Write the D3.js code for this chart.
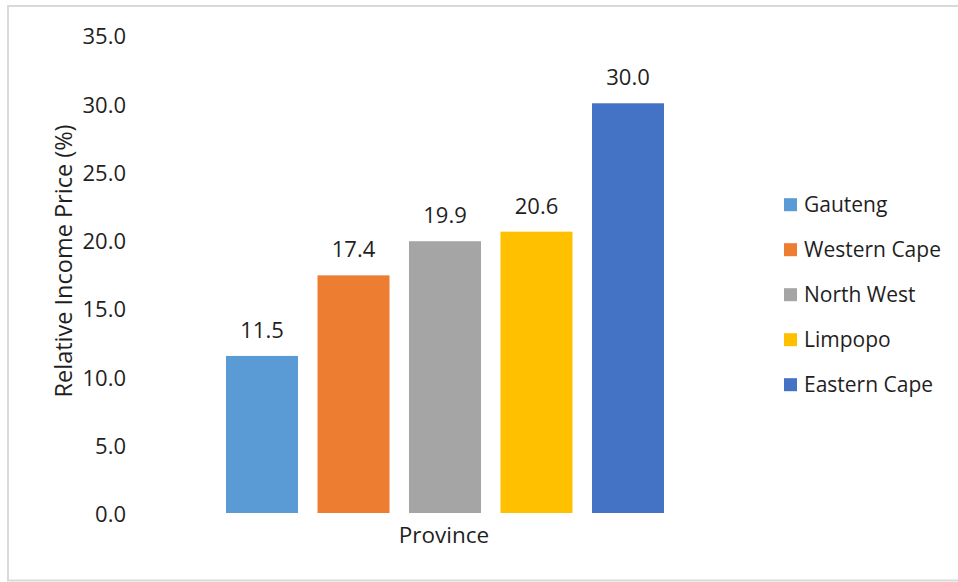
<!DOCTYPE html>
<html>
<head>
<meta charset="utf-8">
<script src="https://cdn.jsdelivr.net/npm/d3@7"></script>
<style>
  html, body { margin: 0; padding: 0; background: #fff; }
  svg { display: block; }
  text { font-family: "Open Sans", "Noto Sans", sans-serif; fill: #1f1f1f; }
</style>
</head>
<body>
<script>
const provinces = ["Gauteng", "Western Cape", "North West", "Limpopo", "Eastern Cape"];
const values = [11.5, 17.4, 19.9, 20.6, 30.0];
const colors = ["#5B9BD5", "#ED7D31", "#A5A5A5", "#FFC000", "#4472C4"];
const yTicks = [0, 5, 10, 15, 20, 25, 30, 35];
const xTitle = "Province";
const yTitle = "Relative Income Price (%)";

const W = 958, H = 582;
const svg = d3.select("body").append("svg").attr("width", W).attr("height", H);

// chart border (right edge cropped in reference)
svg.append("path")
  .attr("d", "M966,6 H8 V580.5 H966")
  .attr("fill", "none").attr("stroke", "#d9d9d9").attr("stroke-width", 2);

const y = d3.scaleLinear().domain([0, 35]).range([513, 35]);
const x = d3.scaleBand().domain(provinces).range([226, 664]).paddingInner(0.213).paddingOuter(0);

// y axis labels
const yAxis = d3.axisLeft(y).tickValues(yTicks).tickFormat(d3.format(".1f")).tickSize(0).tickPadding(0);
const gy = svg.append("g").attr("transform", "translate(126,0)").call(yAxis);
gy.select(".domain").remove();
gy.selectAll("text")
  .attr("font-size", 22)
  .attr("font-family", "Open Sans, sans-serif")
  .attr("fill", "#1f1f1f")
  .attr("dy", "0.4em");

// bars
svg.selectAll("rect.bar").data(provinces).enter().append("rect")
  .attr("class", "bar")
  .attr("x", d => x(d))
  .attr("width", x.bandwidth())
  .attr("y", (d, i) => y(values[i]))
  .attr("height", (d, i) => y(0) - y(values[i]))
  .attr("fill", (d, i) => colors[i]);

// data labels
svg.selectAll("text.lbl").data(provinces).enter().append("text")
  .attr("class", "lbl")
  .attr("x", d => x(d) + x.bandwidth() / 2)
  .attr("y", (d, i) => y(values[i]) - 18)
  .attr("text-anchor", "middle")
  .attr("font-size", 22)
  .text((d, i) => values[i].toFixed(1));

// axis titles
svg.append("text")
  .attr("x", 444).attr("y", 543)
  .attr("text-anchor", "middle").attr("font-size", 22.5)
  .text(xTitle);

svg.append("text")
  .attr("transform", "translate(72,261) rotate(-90)")
  .attr("text-anchor", "middle").attr("font-size", 23.5)
  .text(yTitle);

// legend
const leg = svg.append("g");
const rowY = d3.scalePoint().domain(provinces).range([211.7, 391.7]);
provinces.forEach((p, i) => {
  const by = rowY(p);
  leg.append("rect").attr("x", 784).attr("y", by - 13.5).attr("width", 13).attr("height", 13).attr("fill", colors[i]);
  leg.append("text").attr("x", 804).attr("y", by).attr("font-size", 21).text(p);
});
</script>
</body>
</html>
